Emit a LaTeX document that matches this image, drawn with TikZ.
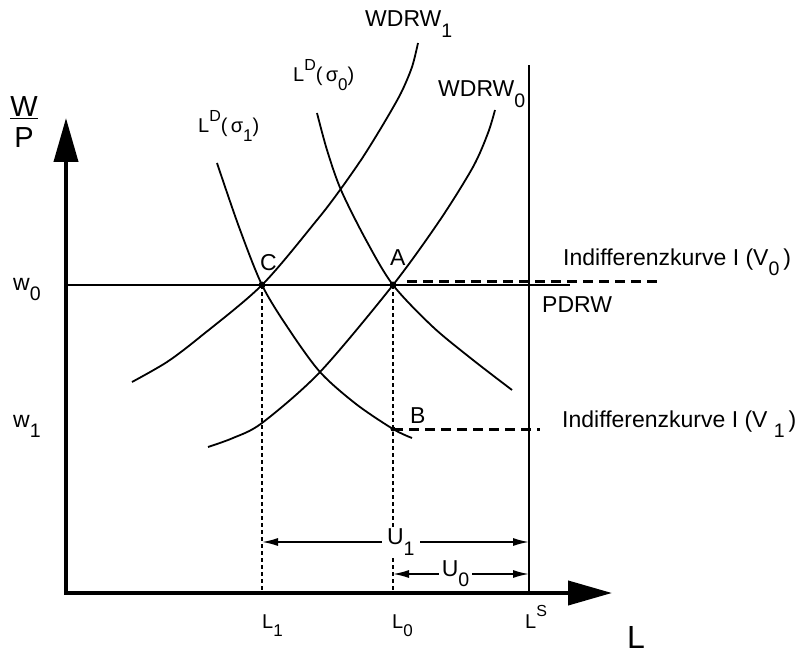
\documentclass[tikz,border=0pt]{standalone}
\usepackage{fontspec}
\setmainfont{Liberation Sans}
\usepackage{graphicx}
\usepackage{tikz}
\usetikzlibrary{arrows.meta,calc}
\newcommand{\lo}[1]{\raisebox{-.85ex}{\scalebox{.85}{#1}}}
\newcommand{\hi}[1]{\raisebox{1.05ex}{\scalebox{.8}{#1}}}

\begin{document}
\begin{tikzpicture}[x=1pt,y=1pt,
    every node/.style={inner sep=0pt},
    txt/.style={font=\fontsize{23}{26}\selectfont},
    small/.style={font=\fontsize{20}{24}\selectfont},
    curve/.style={line width=1.8pt},
    guide/.style={line width=1.4pt,dash pattern=on 4pt off 3pt},
    indiff/.style={line width=3pt,dash pattern=on 10pt off 6pt},
    span/.style={line width=1.6pt,{Latex[length=16pt,width=8pt]}-{Latex[length=16pt,width=8pt]}},
    dot/.style={circle,fill,minimum size=7pt}]
  \useasboundingbox (-66,-64) rectangle (743,593);
  % axes
  \coordinate (O) at (0,0);
  \coordinate (ytip) at (0,475);
  \coordinate (xtip) at (546,0);
  \draw[line width=4pt,{Triangle[length=44pt,width=24pt]}-{Triangle[length=44pt,width=24pt]}] (ytip) -- (O) -- (xtip);
  \coordinate (A) at (327,308);
  \coordinate (C) at (196,308);
  \coordinate (B) at (327,164);
  \coordinate (pdrwend) at (504,308);
  \coordinate (LS) at (463,0);
  \coordinate (LStop) at (463,528);
  \draw[line width=1.6pt] (O |- A) -- (pdrwend);
  \draw[line width=1.6pt] (LS) -- (LStop);
  \draw[guide] (C) -- (C |- O);
  \draw[guide] (A) -- (A |- O);
  % curves
  \draw[curve,smooth] plot coordinates {(151,430)(173,366)(196,308)(222,265)(254,221)(290,189)(327,164)(346,155)};
  \draw[curve,smooth] plot coordinates {(251,480)(261,443)(275,403)(300,353)(327,308)(367,266)(407,233)(446,203)};
  \draw[curve,smooth] plot coordinates {(66,211)(101,231)(134,256)(196,308)(251,373)(274,403)(297,436)(318,470)(335,500)(346,526)(352,550)};
  \draw[curve,smooth] plot coordinates {(142,146)(167,155)(196,170)(254,221)(327,308)(374,373)(407,426)(422,460)(429,483)};
  % indifference curves
  \coordinate (iv0) at (594,312);
  \coordinate (iv1) at (474,164);
  \draw[indiff] ($(A)+(14,4)$) -- (iv0);
  \draw[indiff] (B) -- (iv1);
  \node[dot] (ptA) at (A) {};
  \node[dot] (ptC) at (C) {};
  \node[dot,minimum size=5pt] (ptB) at (B) {};
  % unemployment
  \draw[span] (C |- 0,51) -- node[pos=.52,fill=white,inner xsep=5pt,txt] (u1) {U\lo{1}} (LS |- 0,51);
  \draw[span] (A |- 0,19) -- node[pos=.46,fill=white,inner xsep=3pt,txt] (u0) {U\lo{0}} (LS |- 0,19);
  % labels
  \node[align=center,font=\fontsize{29}{31}\selectfont] (wp) at (-42,471) {\underline{W}\\P};
  \node[txt,anchor=base west] (w0) at (-53,303) {w\lo{0}};
  \node[txt,anchor=base west] (w1) at (-53,166) {w\lo{1}};
  \node[txt,anchor=base west] (wdrw1) at (299,566) {WDRW\lo{1}};
  \node[txt,anchor=base west] (wdrw0) at (372,496) {WDRW\lo{0}};
  \node[small,anchor=base west] (ld0) at (227,511) {L\hi{D}(\,σ\lo{0})};
  \node[small,anchor=base west] (ld1) at (132,460) {L\hi{D}(\,σ\lo{1})};
  \node[txt,anchor=base west] (labC) at (194,323) {C};
  \node[txt,anchor=base west] (labA) at (324,328) {A};
  \node[txt,anchor=base west] (labB) at (344,170) {B};
  \node[txt,anchor=base west] (pdrw) at (476,281) {PDRW};
  \node[txt,anchor=base west] (iv0lab) at (497,328) {Indifferenzkurve I (V\lo{0}\,)};
  \node[txt,anchor=base west] (iv1lab) at (496,166) {Indifferenzkurve I (V\;\lo{1}\,)};
  \node[small,anchor=base west] (l1) at (196,-35) {L\lo{1}};
  \node[small,anchor=base west] (l0) at (326,-35) {L\lo{0}};
  \node[small,anchor=base west] (ls) at (459,-35) {L\hi{S}};
  \node[font=\fontsize{32}{36}\selectfont,anchor=base west] (lax) at (561,-55) {L};
\end{tikzpicture}
\end{document}
